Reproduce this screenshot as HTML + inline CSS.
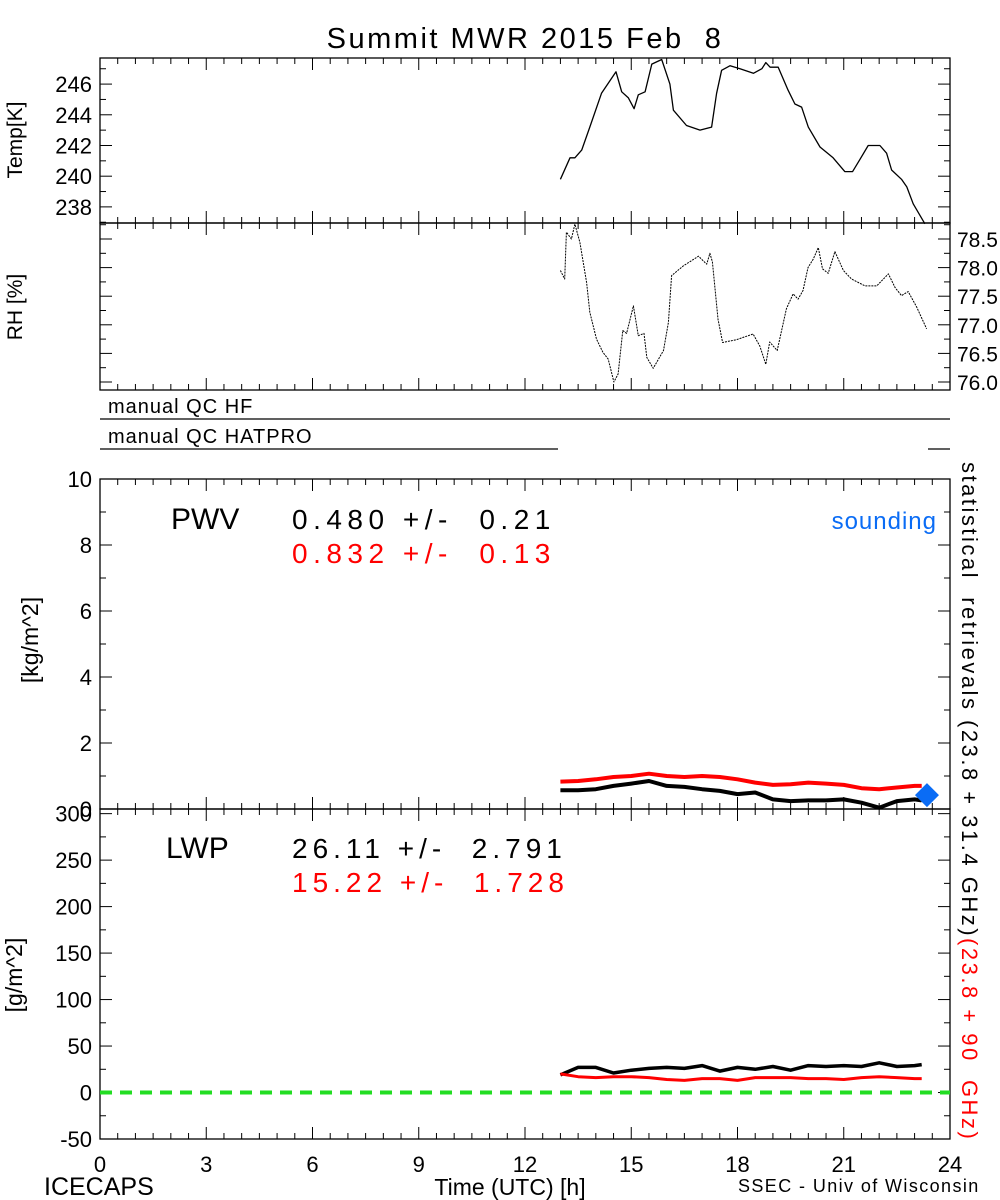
<!DOCTYPE html>
<html><head><meta charset="utf-8"><style>
body{margin:0;background:#fff;}
svg{display:block;font-family:"Liberation Sans",sans-serif;}
.pre{white-space:pre;}
</style></head><body>
<svg id="chart" width="1000" height="1200" viewBox="0 0 1000 1200" xmlns="http://www.w3.org/2000/svg">
<text class="pre" x="525" y="48" font-size="29" letter-spacing="2.5" text-anchor="middle">Summit MWR 2015 Feb  8</text>
<g id="axes"></g>
<g id="marks"></g>
<text transform="translate(22,140) rotate(-90)" font-size="21" text-anchor="middle">Temp[K]</text>
<text transform="translate(22,307) rotate(-90)" font-size="21" text-anchor="middle">RH [%]</text>
<text transform="translate(38,640) rotate(-90)" font-size="23" text-anchor="middle">[kg/m^2]</text>
<text transform="translate(22,975) rotate(-90)" font-size="23" text-anchor="middle">[g/m^2]</text>
<text x="108" y="413" font-size="20" letter-spacing="1">manual QC HF</text>
<line x1="100" y1="419" x2="950" y2="419" stroke="#000" stroke-width="1.3"/>
<text x="108" y="443" font-size="20" letter-spacing="1">manual QC HATPRO</text>
<line x1="100" y1="449" x2="558" y2="449" stroke="#000" stroke-width="1.3"/>
<line x1="928" y1="449" x2="950" y2="449" stroke="#000" stroke-width="1.3"/>
<text x="171" y="529" font-size="30">PWV</text>
<text class="pre" x="292" y="529" font-size="28" letter-spacing="5.5">0.480 +/-  0.21</text>
<text class="pre" x="292" y="563" font-size="28" letter-spacing="5.5" fill="#ff0000">0.832 +/-  0.13</text>
<text x="937" y="529" font-size="24" letter-spacing="1" fill="#0a6cf5" text-anchor="end">sounding</text>
<text x="166" y="858" font-size="30">LWP</text>
<text class="pre" x="292" y="858" font-size="28" letter-spacing="5">26.11 +/-  2.791</text>
<text class="pre" x="292" y="892" font-size="28" letter-spacing="5" fill="#ff0000">15.22 +/-  1.728</text>
<text class="pre" transform="translate(962,462) rotate(90)" font-size="22" letter-spacing="2.5">statistical  retrievals (23.8 + 31.4 GHz)<tspan fill="#ff0000">(23.8 + 90  GHz)</tspan></text>
<text x="44" y="1195" font-size="25">ICECAPS</text>
<text x="510" y="1195" font-size="23" text-anchor="middle">Time (UTC) [h]</text>
<text x="738" y="1192" font-size="18" letter-spacing="1.4">SSEC - Univ of Wisconsin</text>
</svg>
<script>
const hoursT=[13.0,13.27,13.41,13.6,13.83,14.16,14.57,14.73,14.92,15.08,15.2,15.39,15.58,15.86,16.09,16.19,16.56,16.94,17.27,17.41,17.55,17.79,18.07,18.45,18.69,18.8,18.92,19.15,19.43,19.62,19.81,20.0,20.33,20.7,21.03,21.25,21.46,21.69,22.02,22.21,22.35,22.63,22.78,22.96,23.29];
const tempK=[239.8,241.2,241.2,241.7,243.2,245.4,246.8,245.5,245.1,244.4,245.3,245.5,247.3,247.6,246.0,244.3,243.3,243.0,243.2,245.4,246.9,247.2,247.0,246.7,247.0,247.4,247.1,247.1,245.6,244.7,244.5,243.2,241.9,241.2,240.3,240.3,241.1,242.0,242.0,241.5,240.4,239.8,239.3,238.2,236.9];
const hoursRH=[13.0,13.12,13.17,13.31,13.41,13.55,13.74,13.83,14.02,14.2,14.35,14.51,14.63,14.76,14.87,15.06,15.2,15.36,15.44,15.62,15.91,16.05,16.14,16.47,16.9,17.13,17.22,17.29,17.45,17.58,17.97,18.44,18.63,18.8,18.91,19.12,19.38,19.57,19.71,19.85,19.99,20.14,20.28,20.4,20.56,20.75,20.99,21.22,21.6,21.93,22.26,22.45,22.63,22.82,23.06,23.34];
const rhPct=[77.95,77.8,78.62,78.5,78.76,78.44,77.74,77.22,76.75,76.52,76.4,76.0,76.14,76.9,76.85,77.33,76.81,76.85,76.43,76.24,76.55,77.04,77.86,78.03,78.2,78.06,78.25,78.1,77.1,76.69,76.74,76.84,76.63,76.31,76.7,76.55,77.28,77.54,77.45,77.6,78.0,78.15,78.35,77.98,77.9,78.28,77.95,77.8,77.68,77.68,77.89,77.65,77.51,77.58,77.31,76.93];
const hoursP=[13,13.5,14,14.5,15,15.5,16,16.5,17,17.5,18,18.5,19,19.5,20,20.5,21,21.5,22,22.5,23,23.2];
const pwvBlack=[0.57,0.57,0.60,0.70,0.77,0.85,0.70,0.67,0.60,0.55,0.45,0.50,0.29,0.24,0.26,0.26,0.29,0.19,0.04,0.24,0.29,0.26];
const pwvRed=[0.83,0.85,0.90,0.97,1.00,1.07,1.00,0.97,1.00,0.97,0.90,0.80,0.73,0.75,0.80,0.77,0.73,0.63,0.60,0.65,0.70,0.70];
const lwpBlack=[19,27,27,21,24,26,27,26,29,23,27,25,28,24,29,28,29,28,32,28,29,30];
const lwpRed=[20,17,16,17,17,16,14,13,15,15,13,16,16,16,15,15,14,16,17,16,15,15];
const soundingH=[23.35];
const soundingPWV=[0.42];
const xTicks=[0,3,6,9,12,15,18,21,24];
const tempTicks=[238,240,242,244,246];
const rhTicks=[76.0,76.5,77.0,77.5,78.0,78.5];
const pwvTicks=[0,2,4,6,8,10];
const lwpTicks=[-50,0,50,100,150,200,250,300];

const NS="http://www.w3.org/2000/svg";
const X0=100,X1=950;
const xs=h=>X0+(X1-X0)*h/24;
const P={
 temp:{top:58,bot:223,v0:236.95,v1:247.7},
 rh:{top:223,bot:390,v0:75.86,v1:78.78},
 pwv:{top:479,bot:809,v0:0,v1:10},
 lwp:{top:809,bot:1139,v0:-50,v1:305}
};
function ys(p,v){return p.bot-(v-p.v0)/(p.v1-p.v0)*(p.bot-p.top);}
function mk(tag,attrs,parent){const e=document.createElementNS(NS,tag);for(const k in attrs)e.setAttribute(k,attrs[k]);parent.appendChild(e);return e;}
const axes=document.getElementById('axes'),marks=document.getElementById('marks');

for(const key of ['temp','rh','pwv','lwp']){
 const p=P[key];
 const r=mk('rect',{x:X0,y:p.top,width:X1-X0,height:p.bot-p.top,fill:'none',stroke:'#000','stroke-width':1.3},axes);
 
 
 for(let h=0;h<=24;h+=0.5){
  const big=(h%3===0)?12:6;
  const x=xs(h);
  const t1=mk('line',{x1:x,y1:p.bot,x2:x,y2:p.bot-big,stroke:'#000','stroke-width':1},axes);
  
  
  const t2=mk('line',{x1:x,y1:p.top,x2:x,y2:p.top+big,stroke:'#000','stroke-width':1},axes);
  
  
 }
}
function yTicks(p,ticks,minorStep,side,name){
 const step=ticks[1]-ticks[0];
 for(let v=ticks[0]-step;v<=ticks[ticks.length-1]+step+1e-9;v+=minorStep){
  const y=ys(p,v); if(y<p.top-0.5||y>p.bot+0.5)continue;
  const major=ticks.some(t=>Math.abs(t-v)<1e-6);
  const len=major?12:6;
  for(const x of [X0,X1]){
   const dir=(x===X0)?1:-1;
   const t=mk('line',{x1:x,y1:y,x2:x+dir*len,y2:y,stroke:'#000','stroke-width':1},axes);
   
   
  }
 }
 ticks.forEach(v=>{
  const y=ys(p,v);
  const t=mk('text',{x:side==='left'?X0-8:X1+7,y:y+8,'font-size':side==='left'?22:21,'text-anchor':side==='left'?'end':'start'},axes);
  t.textContent=(name==='rh')?v.toFixed(1):String(v);
  
  
 });
}
yTicks(P.temp,tempTicks,1,'left','temp');
yTicks(P.rh,rhTicks,0.25,'right','rh');
yTicks(P.pwv,pwvTicks,1,'left','pwv');
yTicks(P.lwp,lwpTicks,25,'left','lwp');
xTicks.forEach(h=>{
 const t=mk('text',{x:xs(h),y:1172,'font-size':22,'text-anchor':'middle'},axes);
 t.textContent=String(h);
 
 
});

function line(p,hs,vs,color,w,name,dash){
 const d=hs.map((h,i)=>(i?'L':'M')+xs(h).toFixed(1)+','+ys(p,vs[i]).toFixed(1)).join('');
 const a={d:d,fill:'none',stroke:color,'stroke-width':w,'stroke-linejoin':'round'};
 if(dash)a['stroke-dasharray']=dash;
 const e=mk('path',a,marks);
 
 
}
line(P.temp,hoursT,tempK,'#000',1.3,'temp-line');
line(P.rh,hoursRH,rhPct,'#000',1,'rh-line','2 1');
line(P.pwv,hoursP,pwvRed,'#ff0000',4,'pwv-red-line');
line(P.pwv,hoursP,pwvBlack,'#000',4,'pwv-black-line');
line(P.lwp,hoursP,lwpBlack,'#000',3.5,'lwp-black-line');
line(P.lwp,hoursP,lwpRed,'#ff0000',3,'lwp-red-line');
const z=mk('line',{x1:X0,x2:X1,y1:ys(P.lwp,0),y2:ys(P.lwp,0),stroke:'#22dd22','stroke-width':4,'stroke-dasharray':'12 8'},marks);


soundingH.forEach((h,i)=>{
 const cx=xs(h),cy=ys(P.pwv,soundingPWV[i]),r=12;
 const d=mk('polygon',{points:`${cx},${cy-r} ${cx+r},${cy} ${cx},${cy+r} ${cx-r},${cy}`,fill:'#0a6cf5'},marks);
 
 
});
</script>
</body></html>
